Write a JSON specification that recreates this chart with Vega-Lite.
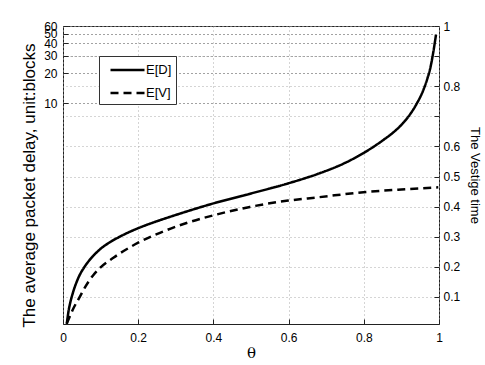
{
  "$schema": "https://vega.github.io/schema/vega-lite/v6.json",
  "width": 376,
  "height": 298,
  "autosize": {"type": "none"},
  "padding": {"left": 63, "top": 26, "right": 46, "bottom": 41},
  "background": "white",
  "config": {
    "view": {"stroke": "#222", "strokeWidth": 1},
    "font": "Liberation Sans",
    "axis": {
      "labelFont": "Liberation Sans",
      "titleFont": "Liberation Sans",
      "labelFontSize": 12,
      "labelColor": "#000",
      "titleColor": "#000",
      "titleFontWeight": "normal",
      "domain": false,
      "tickColor": "#222",
      "tickSize": -5,
      "gridDash": [1, 3],
      "gridColor": "#aaa",
      "labelOverlap": false,
      "labelFlush": false
    }
  },
  "data": {
    "values": [
      {"theta": 0.01, "series": "E[D]", "value": 0.06},
      {"theta": 0.015, "series": "E[D]", "value": 0.082},
      {"theta": 0.02, "series": "E[D]", "value": 0.101},
      {"theta": 0.027, "series": "E[D]", "value": 0.126},
      {"theta": 0.04, "series": "E[D]", "value": 0.172},
      {"theta": 0.059, "series": "E[D]", "value": 0.231},
      {"theta": 0.08, "series": "E[D]", "value": 0.29},
      {"theta": 0.098, "series": "E[D]", "value": 0.338},
      {"theta": 0.125, "series": "E[D]", "value": 0.4},
      {"theta": 0.15, "series": "E[D]", "value": 0.452},
      {"theta": 0.2, "series": "E[D]", "value": 0.553},
      {"theta": 0.25, "series": "E[D]", "value": 0.65},
      {"theta": 0.311, "series": "E[D]", "value": 0.775},
      {"theta": 0.4, "series": "E[D]", "value": 0.982},
      {"theta": 0.5, "series": "E[D]", "value": 1.236},
      {"theta": 0.6, "series": "E[D]", "value": 1.567},
      {"theta": 0.68, "series": "E[D]", "value": 1.96},
      {"theta": 0.75, "series": "E[D]", "value": 2.51},
      {"theta": 0.8, "series": "E[D]", "value": 3.17},
      {"theta": 0.85, "series": "E[D]", "value": 4.22},
      {"theta": 0.878, "series": "E[D]", "value": 5.08},
      {"theta": 0.9, "series": "E[D]", "value": 6.07},
      {"theta": 0.923, "series": "E[D]", "value": 7.74},
      {"theta": 0.94, "series": "E[D]", "value": 9.8},
      {"theta": 0.958, "series": "E[D]", "value": 13.5},
      {"theta": 0.97, "series": "E[D]", "value": 18.2},
      {"theta": 0.976, "series": "E[D]", "value": 21.9},
      {"theta": 0.985, "series": "E[D]", "value": 33},
      {"theta": 0.992, "series": "E[D]", "value": 49},
      {"theta": 0.01, "series": "E[V]", "value": 0.012},
      {"theta": 0.014, "series": "E[V]", "value": 0.023},
      {"theta": 0.025, "series": "E[V]", "value": 0.055},
      {"theta": 0.045, "series": "E[V]", "value": 0.101},
      {"theta": 0.06, "series": "E[V]", "value": 0.135},
      {"theta": 0.081, "series": "E[V]", "value": 0.173},
      {"theta": 0.1, "series": "E[V]", "value": 0.198},
      {"theta": 0.134, "series": "E[V]", "value": 0.23},
      {"theta": 0.2, "series": "E[V]", "value": 0.28},
      {"theta": 0.258, "series": "E[V]", "value": 0.313},
      {"theta": 0.332, "series": "E[V]", "value": 0.347},
      {"theta": 0.4, "series": "E[V]", "value": 0.371},
      {"theta": 0.497, "series": "E[V]", "value": 0.399},
      {"theta": 0.599, "series": "E[V]", "value": 0.42},
      {"theta": 0.679, "series": "E[V]", "value": 0.431},
      {"theta": 0.799, "series": "E[V]", "value": 0.448},
      {"theta": 0.9, "series": "E[V]", "value": 0.457},
      {"theta": 0.998, "series": "E[V]", "value": 0.464}
    ]
  },
  "encoding": {
    "x": {
      "field": "theta",
      "type": "quantitative",
      "scale": {"domain": [0, 1], "nice": false},
      "axis": {
        "title": "θ",
        "titleFont": "DejaVu Serif",
        "titleFontSize": 15,
        "titlePadding": 2,
        "values": [0, 0.2, 0.4, 0.6, 0.8, 1],
        "format": "~g",
        "labelPadding": 13,
        "grid": true
      }
    },
    "strokeDash": {
      "field": "series",
      "type": "nominal",
      "scale": {"domain": ["E[D]", "E[V]"], "range": [[1, 0], [8, 5]]},
      "legend": {
        "title": null,
        "orient": "none",
        "legendX": 36,
        "legendY": 30,
        "direction": "vertical",
        "symbolType": "M-0.294,0L3.706,0",
        "symbolSize": 289,
        "symbolStrokeWidth": 2.5,
        "symbolStrokeColor": "black",
        "symbolFillColor": "transparent",
        "labelFont": "Liberation Sans",
        "labelFontSize": 13,
        "labelColor": "black",
        "labelOffset": 23,
        "strokeColor": "#333",
        "fillColor": "white",
        "padding": 4,
        "rowPadding": 6
      }
    }
  },
  "layer": [
    {
      "transform": [{"filter": "datum.series === 'E[D]'"}],
      "mark": {"type": "line", "color": "black", "strokeWidth": 2.5, "interpolate": "monotone", "clip": true},
      "encoding": {
        "y": {
          "field": "value",
          "type": "quantitative",
          "scale": {"type": "log", "domain": [0.06, 60], "nice": false},
          "axis": {
            "orient": "left",
            "title": "The average packet delay, unit:blocks",
            "titleFontSize": 17,
            "titlePadding": 5,
            "titleY": 159,
            "values": [10, 20, 30, 40, 50, 60],
            "format": "d",
            "labelPadding": 11,
            "grid": true,
            "gridColor": "#444"
          }
        }
      }
    },
    {
      "transform": [{"filter": "datum.series === 'E[V]'"}],
      "mark": {"type": "line", "color": "black", "strokeWidth": 2.5, "interpolate": "monotone", "clip": true},
      "encoding": {
        "y": {
          "field": "value",
          "type": "quantitative",
          "scale": {"domain": [0.01, 1], "nice": false},
          "axis": {
            "orient": "right",
            "title": "The Vestige time",
            "titleFontSize": 13,
            "titlePadding": 8,
            "values": [0.1, 0.2, 0.3, 0.4, 0.5, 0.6, 0.7, 0.8, 0.9, 1],
            "labelExpr": "(datum.value > 0.65 && datum.value < 0.75) || (datum.value > 0.85 && datum.value < 0.95) ? '' : format(datum.value, '~g')",
            "labelPadding": 9,
            "grid": true
          }
        }
      }
    }
  ],
  "resolve": {"scale": {"y": "independent"}}
}
